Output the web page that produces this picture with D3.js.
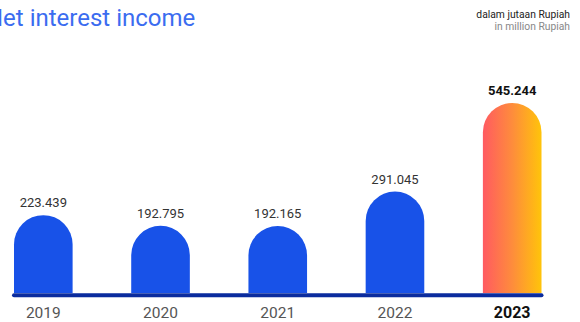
<!DOCTYPE html>
<html>
<head>
<meta charset="utf-8">
<script src="https://cdn.jsdelivr.net/npm/d3@7"></script>
<style>
  html, body { margin: 0; padding: 0; background: #fff; }
  svg { display: block; font-family: Roboto, "Open Sans", sans-serif; }
</style>
</head>
<body>
<svg id="chart" width="580" height="322"></svg>
<script>
// Net interest income, 2019–2023 (in million Rupiah)
const years = ["2019", "2020", "2021", "2022", "2023"];
const values = [223.439, 192.795, 192.165, 291.045, 545.244];
const valueLabels = ["223.439", "192.795", "192.165", "291.045", "545.244"];
const highlightYear = "2023";

const title = "Net interest income";
const unitLines = ["dalam jutaan Rupiah", "in million Rupiah"];

const W = 580, H = 322;
const baseline = 293;
const svg = d3.select("#chart");

const x = d3.scaleBand()
  .domain(years)
  .range([14, 541.5])
  .paddingInner(0.5)
  .paddingOuter(0);

const y = d3.scaleLinear()
  .domain([0, 545.244])
  .range([baseline, 103]);

// gradient for the highlighted year
const defs = svg.append("defs");
const grad = defs.append("linearGradient")
  .attr("id", "hl-grad")
  .attr("x1", "0%").attr("x2", "100%").attr("y1", "0%").attr("y2", "0%");
grad.append("stop").attr("offset", "0%").attr("stop-color", "#ff5a61");
grad.append("stop").attr("offset", "50%").attr("stop-color", "#fe8c3c");
grad.append("stop").attr("offset", "100%").attr("stop-color", "#ffc40a");

// bar with a semicircular top
function barPath(year, v) {
  const x0 = x(year), w = x.bandwidth(), r = w / 2;
  const top = y(v);
  const p = d3.path();
  p.moveTo(x0, baseline);
  p.lineTo(x0, top + r);
  p.arc(x0 + r, top + r, r, Math.PI, 0);
  p.lineTo(x0 + w, baseline);
  p.closePath();
  return p.toString();
}

const data = years.map((yr, i) => ({ year: yr, value: values[i], label: valueLabels[i] }));

svg.append("g").selectAll("path")
  .data(data)
  .join("path")
  .attr("d", d => barPath(d.year, d.value))
  .attr("fill", d => d.year === highlightYear ? "url(#hl-grad)" : "#1852e8");

// baseline axis
svg.append("line")
  .attr("x1", x(years[0]))
  .attr("x2", x(years[years.length - 1]) + x.bandwidth())
  .attr("y1", baseline + 2.3)
  .attr("y2", baseline + 2.3)
  .attr("stroke", "#0b2c9e")
  .attr("stroke-width", 4)
  .attr("stroke-linecap", "round");

// value labels
svg.append("g").selectAll("text")
  .data(data)
  .join("text")
  .attr("x", d => x(d.year) + x.bandwidth() / 2)
  .attr("y", d => y(d.value) - 8)
  .attr("text-anchor", "middle")
  .attr("font-size", 13)
  .attr("font-weight", d => d.year === highlightYear ? 700 : 400)
  .attr("fill", d => d.year === highlightYear ? "#111" : "#333")
  .text(d => d.label);

// year labels
svg.append("g").selectAll("text")
  .data(data)
  .join("text")
  .attr("x", d => x(d.year) + x.bandwidth() / 2)
  .attr("y", 318)
  .attr("text-anchor", "middle")
  .attr("font-size", d => d.year === highlightYear ? 16 : 15.5)
  .attr("font-weight", d => d.year === highlightYear ? 700 : 400)
  .attr("fill", d => d.year === highlightYear ? "#111" : "#555")
  .text(d => d.year);

// title, its first letter running off the left edge
svg.append("text")
  .attr("x", -14)
  .attr("y", 25.5)
  .attr("font-size", 24)
  .attr("fill", "#3b6cf0")
  .text(title);

// unit note
svg.append("g").selectAll("text")
  .data(unitLines)
  .join("text")
  .attr("x", 570)
  .attr("y", (d, i) => 18 + i * 12)
  .attr("text-anchor", "end")
  .attr("font-size", 10.3)
  .attr("fill", (d, i) => i === 0 ? "#222" : "#888")
  .text(d => d);
</script>
</body>
</html>
